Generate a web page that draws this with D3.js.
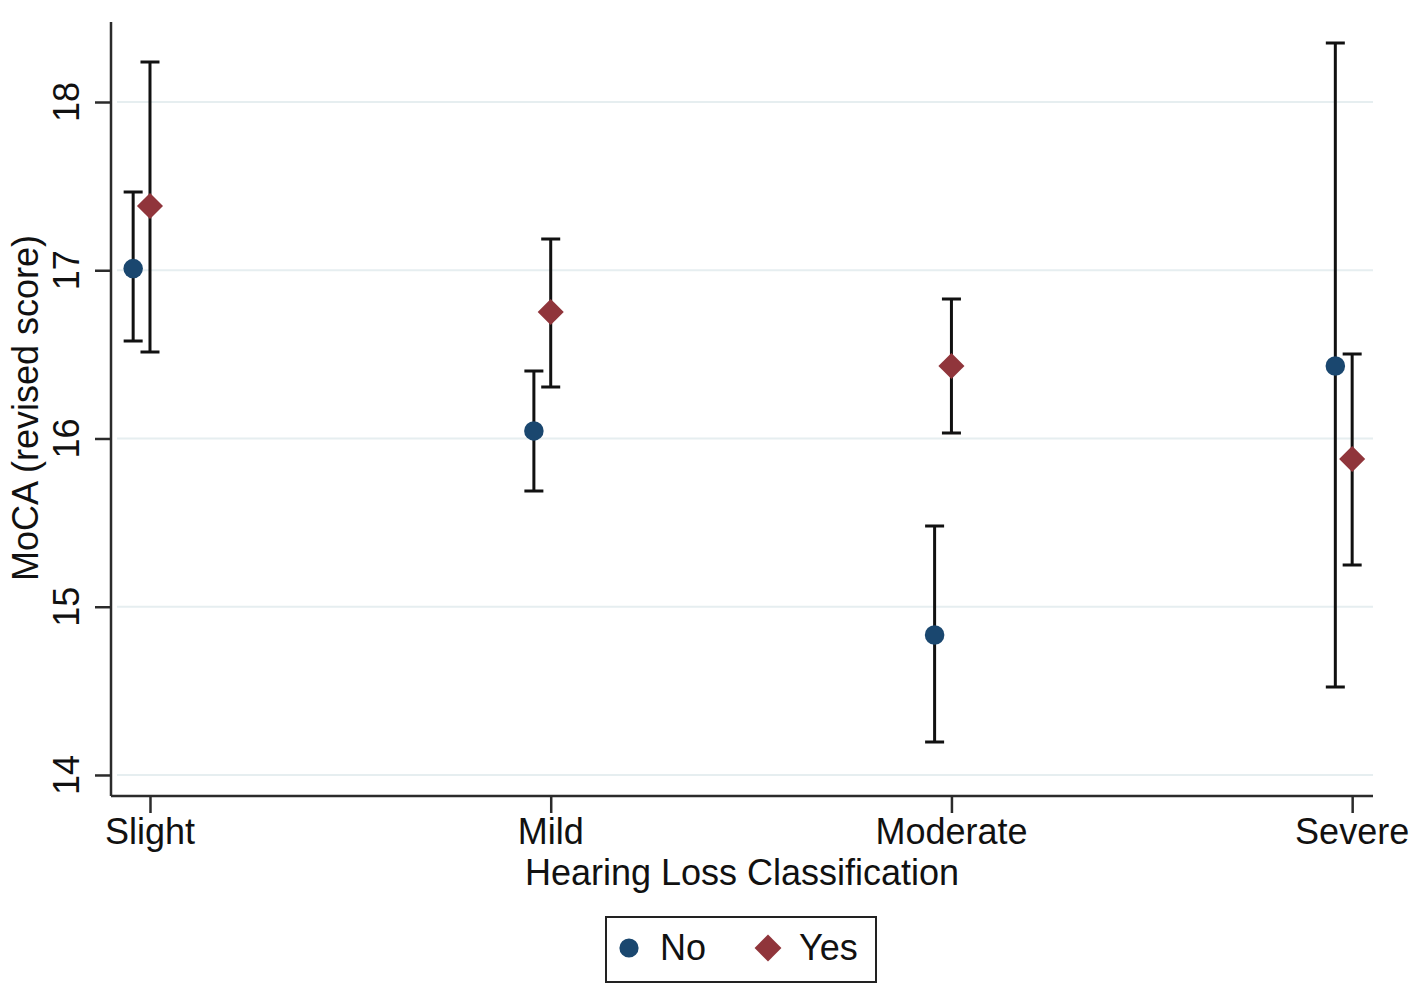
<!DOCTYPE html>
<html>
<head>
<meta charset="utf-8">
<script src="https://cdn.jsdelivr.net/npm/d3@7"></script>
<style>
  body { margin: 0; background: #fff; }
  text { font-family: "Liberation Sans", Arial, sans-serif; fill: #111; }
</style>
</head>
<body>
<div id="chart"></div>
<script>
// data
const categories = ["Slight", "Mild", "Moderate", "Severe"];
const noMean  = [17.01, 16.045, 14.832, 16.431];
const noLower = [16.58, 15.688, 14.196, 14.523];
const noUpper = [17.465, 16.401, 15.48, 18.351];
const yesMean  = [17.382, 16.752, 16.431, 15.878];
const yesLower = [16.514, 16.306, 16.033, 15.248];
const yesUpper = [18.238, 17.186, 16.829, 16.502];
const yTicks = [14, 15, 16, 17, 18];
const groups = ["No", "Yes"];

const width = 1417, height = 993;
const plot = {left: 111, right: 1373, top: 22, bottom: 796};
const blue = "#1a476f", red = "#90353b";

const svg = d3.select("#chart")
  .append("svg")
    .attr("width", width)
    .attr("height", height);

// scales: categories sit at 1..4
const x = d3.scaleLinear()
  .domain([0.9027, 4.052])
  .range([plot.left, plot.right]);

const y = d3.scaleLinear()
  .domain([13.875, 18.4755])
  .range([plot.bottom, plot.top]);

// grid lines
svg.append("g")
  .selectAll("line")
  .data(yTicks)
  .enter()
  .append("line")
    .attr("x1", plot.left + 6)
    .attr("x2", plot.right)
    .attr("y1", d => y(d))
    .attr("y2", d => y(d))
    .style("stroke", "#e6eef0")
    .style("stroke-width", 2);

// y axis
const yAxis = svg.append("g")
  .attr("transform", "translate(" + plot.left + ",0)")
  .call(d3.axisLeft(y).tickValues(yTicks).tickSize(16).tickSizeOuter(0).tickFormat(""));
yAxis.select(".domain").attr("d", `M0,${plot.top}V${plot.bottom}`);

svg.append("g")
  .selectAll("text")
  .data(yTicks)
  .enter()
  .append("text")
    .attr("transform", d => "translate(79," + y(d) + ") rotate(-90)")
    .style("text-anchor", "middle")
    .style("font-size", "36px")
    .text(d => d);

// x axis
const xAxis = svg.append("g")
  .attr("transform", "translate(0," + plot.bottom + ")")
  .call(d3.axisBottom(x).tickValues([1, 2, 3, 4]).tickSize(17).tickSizeOuter(0).tickFormat(""));
xAxis.select(".domain").attr("d", `M${plot.left},0H${plot.right}`);

svg.selectAll(".domain, .tick line")
  .style("stroke", "#2b2b2b")
  .style("stroke-width", 2.5);

svg.append("g")
  .selectAll("text")
  .data(categories)
  .enter()
  .append("text")
    .attr("x", (d, i) => x(i + 1))
    .attr("y", 844)
    .style("text-anchor", "middle")
    .style("font-size", "36px")
    .text(d => d);

// axis titles
svg.append("text")
  .attr("x", 742)
  .attr("y", 885)
  .style("text-anchor", "middle")
  .style("font-size", "36px")
  .text("Hearing Loss Classification");

svg.append("text")
  .attr("transform", "translate(38,408) rotate(-90)")
  .style("text-anchor", "middle")
  .style("font-size", "36px")
  .text("MoCA (revised score)");

// series (diamond = square turned 45 degrees)
const series = [
  {name: "No", offset: -0.042, mean: noMean, lo: noLower, hi: noUpper, color: blue, shape: d3.symbolCircle, size: 300, rot: 0},
  {name: "Yes", offset: 0, mean: yesMean, lo: yesLower, hi: yesUpper, color: red, shape: d3.symbolSquare, size: 340, rot: 45}
];

const capHalf = 9.5;

series.forEach(s => {
  const rows = categories.map((c, i) => ({pos: i + 1 + s.offset, m: s.mean[i], lo: s.lo[i], hi: s.hi[i]}));
  const g = svg.append("g");

  g.selectAll(".bar")
    .data(rows)
    .enter()
    .append("path")
      .attr("d", d => `M${x(d.pos)},${y(d.lo)}V${y(d.hi)}` +
        `M${x(d.pos) - capHalf},${y(d.hi)}H${x(d.pos) + capHalf}` +
        `M${x(d.pos) - capHalf},${y(d.lo)}H${x(d.pos) + capHalf}`)
      .style("fill", "none")
      .style("stroke", "#111")
      .style("stroke-width", 3);

  g.selectAll(".mark")
    .data(rows)
    .enter()
    .append("path")
      .attr("transform", d => "translate(" + x(d.pos) + "," + y(d.m) + ") rotate(" + s.rot + ")")
      .attr("d", d3.symbol().type(s.shape).size(s.size))
      .style("fill", s.color);
});

// legend
const legend = svg.append("g");
legend.append("rect")
  .attr("x", 606)
  .attr("y", 917)
  .attr("width", 270)
  .attr("height", 65)
  .style("fill", "#fff")
  .style("stroke", "#222")
  .style("stroke-width", 2);

const legX = [629, 768];
series.forEach((s, i) => {
  legend.append("path")
    .attr("transform", "translate(" + legX[i] + ",948) rotate(" + s.rot + ")")
    .attr("d", d3.symbol().type(s.shape).size(i === 0 ? 290 : 360))
    .style("fill", s.color);
  legend.append("text")
    .attr("x", legX[i] + 31)
    .attr("y", 960)
    .style("font-size", "36px")
    .text(groups[i]);
});
</script>
</body>
</html>
